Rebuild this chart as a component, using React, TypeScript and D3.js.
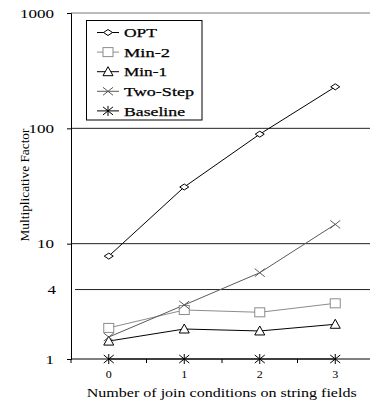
import React, { useEffect, useRef } from 'react';
import * as d3 from 'd3';

const categories = ['0', '1', '2', '3'];
const seriesNames = ['OPT', 'Min-2', 'Min-1', 'Two-Step', 'Baseline'];
const optValues = [7.8, 31, 89, 229];
const min2Values = [1.86, 2.66, 2.54, 3.04];
const min1Values = [1.43, 1.82, 1.75, 2.0];
const twoStepValues = [1.55, 2.94, 5.6, 14.7];
const baselineValues = [1, 1, 1, 1];
const yTicks = [1, 10, 100, 1000];
const extraLine = 4;

const App = () => {
  const svgRef = useRef(null);
  const width = 370;
  const height = 402;
  const margin = { top: 13, right: -3, bottom: 43, left: 71 };

  useEffect(() => {
    const svg = d3.select(svgRef.current);
    svg.selectAll('*').remove();
    const font = 'Liberation Serif, DejaVu Serif, serif';

    const x = d3.scaleBand()
      .domain(categories)
      .range([margin.left, width - margin.right]);
    const y = d3.scaleLog()
      .domain([1, 1000])
      .range([height - margin.bottom, margin.top]);

    const series = [
      { name: seriesNames[0], values: optValues, color: '#000', marker: 'diamond', tl: 33 },
      { name: seriesNames[1], values: min2Values, color: '#8c8c8c', marker: 'square', tl: 46 },
      { name: seriesNames[2], values: min1Values, color: '#000', marker: 'triangle', tl: 43 },
      { name: seriesNames[3], values: twoStepValues, color: '#5a5a5a', marker: 'cross', tl: 70 },
      { name: seriesNames[4], values: baselineValues, color: '#000', marker: 'star', tl: 61 },
    ];

    // gridlines
    const grid = svg.append('g');
    yTicks.filter(t => t > 1).forEach(t => {
      grid.append('line')
        .attr('x1', margin.left).attr('x2', width)
        .attr('y1', y(t)).attr('y2', y(t))
        .attr('stroke', t === 1000 ? '#777' : '#222');
    });
    grid.append('line')
      .attr('x1', margin.left + 4).attr('x2', width)
      .attr('y1', y(extraLine)).attr('y2', y(extraLine))
      .attr('stroke', '#222');

    // y axis
    const yAxis = d3.axisLeft(y)
      .tickValues(yTicks)
      .tickFormat(d3.format('d'))
      .tickSize(4)
      .tickPadding(13);
    svg.append('g')
      .attr('transform', `translate(${margin.left},0)`)
      .call(yAxis)
      .attr('font-family', font)
      .attr('font-size', 12.5)
      .call(g => g.selectAll('text')
        .attr('fill', '#000')
        .attr('textLength', d => String(d).length * 8.5)
        .attr('lengthAdjust', 'spacingAndGlyphs'))
      .call(g => g.selectAll('line').attr('stroke', '#000'))
      .call(g => g.select('.domain').attr('stroke', '#000'));

    svg.append('text')
      .attr('x', margin.left - 15).attr('y', y(extraLine))
      .attr('dy', '0.32em')
      .attr('text-anchor', 'end')
      .attr('font-family', font)
      .attr('font-size', 12.5)
      .attr('textLength', 8.5)
      .attr('lengthAdjust', 'spacingAndGlyphs')
      .text(extraLine);

    // x axis
    const xBase = y(1);
    const xg = svg.append('g');
    xg.append('line')
      .attr('x1', margin.left).attr('x2', width)
      .attr('y1', xBase).attr('y2', xBase)
      .attr('stroke', '#000');
    categories.forEach(c => {
      const bx = x(c) as number;
      xg.append('line')
        .attr('x1', bx).attr('x2', bx)
        .attr('y1', xBase).attr('y2', xBase + 4)
        .attr('stroke', '#000');
      xg.append('text')
        .attr('x', bx + x.bandwidth() / 2).attr('y', xBase + 19)
        .attr('text-anchor', 'middle')
        .attr('font-family', font)
        .attr('font-size', 9.5)
        .attr('textLength', 6)
        .attr('lengthAdjust', 'spacingAndGlyphs')
        .text(c);
    });

    svg.append('text')
      .attr('x', 221.7).attr('y', 396.5)
      .attr('text-anchor', 'middle')
      .attr('font-family', font)
      .attr('font-size', 12)
      .attr('textLength', 270)
      .attr('lengthAdjust', 'spacingAndGlyphs')
      .text('Number of join conditions on string fields');

    svg.append('text')
      .attr('transform', `translate(29, 185) rotate(-90)`)
      .attr('text-anchor', 'middle')
      .attr('font-family', font)
      .attr('font-size', 12.5)
      .attr('textLength', 113)
      .attr('lengthAdjust', 'spacingAndGlyphs')
      .text('Multiplicative Factor');

    const drawMarker = (g, type, cx, cy, color) => {
      const m = g.append('g').attr('transform', `translate(${cx},${cy})`)
        .attr('fill', 'none').attr('stroke', color).attr('stroke-width', 1);
      if (type === 'diamond') {
        m.append('path').attr('d', 'M-4.5,0L0,-3L4.5,0L0,3Z').attr('fill', '#fff');
      } else if (type === 'square') {
        m.append('rect').attr('x', -5).attr('y', -4.5).attr('width', 10).attr('height', 9).attr('fill', '#fff');
      } else if (type === 'triangle') {
        m.append('path').attr('d', 'M0,-5L5,4L-5,4Z').attr('fill', '#fff');
      } else if (type === 'cross') {
        m.append('path').attr('d', 'M-5,-4L5,4M-5,4L5,-4');
      } else {
        m.append('path').attr('d', 'M-5,-4L5,4M-5,4L5,-4M0,-5L0,5');
      }
    };

    const line = d3.line<number>()
      .x((_, i) => (x(categories[i]) as number) + x.bandwidth() / 2)
      .y(d => y(d));

    const plot = svg.append('g');
    series.forEach(s => {
      plot.append('path')
        .attr('d', line(s.values))
        .attr('fill', 'none')
        .attr('stroke', s.color)
        .attr('stroke-width', 1);
    });
    series.forEach(s => {
      s.values.forEach((v, i) => {
        drawMarker(plot, s.marker, (x(categories[i]) as number) + x.bandwidth() / 2, y(v), s.color);
      });
    });

    // legend
    const lg = svg.append('g');
    lg.append('rect')
      .attr('x', 86.5).attr('y', 20.5).attr('width', 115.5).attr('height', 99.5)
      .attr('fill', '#fff').attr('stroke', '#000');
    series.forEach((s, i) => {
      const ly = 32.5 + i * 19.6;
      lg.append('line')
        .attr('x1', 97).attr('x2', 119)
        .attr('y1', ly).attr('y2', ly)
        .attr('stroke', s.color);
      drawMarker(lg, s.marker, 108, ly, s.color);
      lg.append('text')
        .attr('x', 124).attr('y', ly).attr('dy', '0.36em')
        .attr('font-family', font)
        .attr('font-size', 13)
        .attr('textLength', s.tl)
        .attr('lengthAdjust', 'spacingAndGlyphs')
        .attr('stroke', '#000').attr('stroke-width', 0.25)
        .text(s.name);
    });
  }, []);

  return (
    <svg
      ref={svgRef}
      width={width}
      height={height}
      viewBox={`0 0 ${width} ${height}`}
      style={{ position: 'absolute', left: 0, top: 0, background: '#fff' }}
    />
  );
};

export default App;
